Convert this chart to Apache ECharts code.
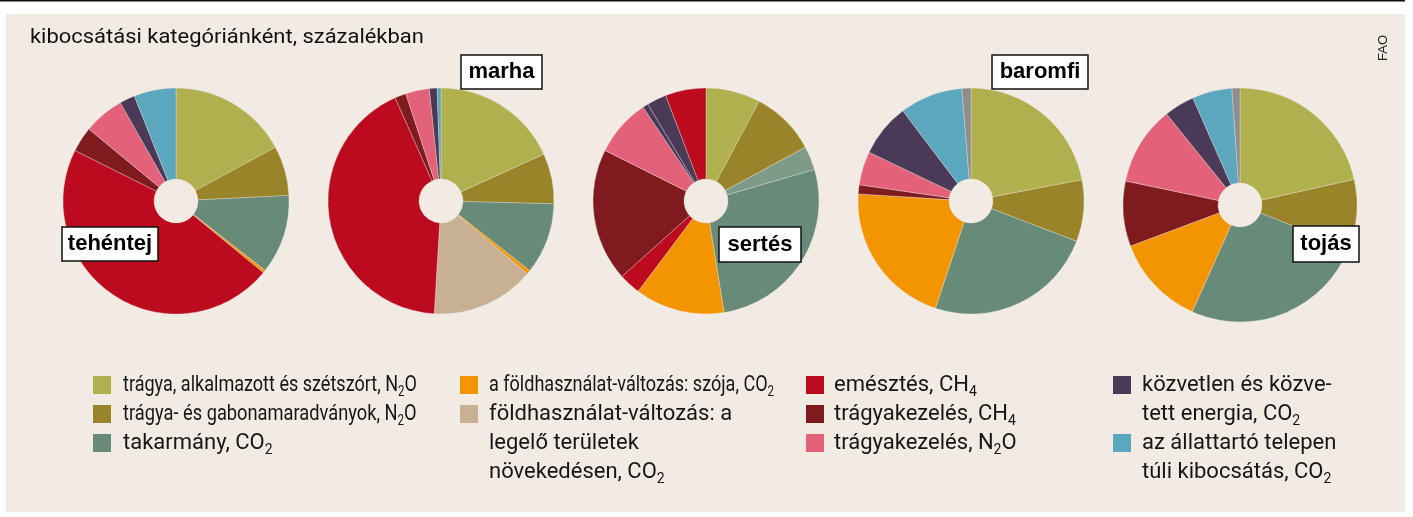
<!DOCTYPE html>
<html>
<head>
<meta charset="utf-8">
<script src="https://cdn.jsdelivr.net/npm/echarts@6/dist/echarts.min.js"></script>
<style>
  html, body { margin: 0; padding: 0; background: #ffffff; }
  #chart { width: 1413px; height: 517px; }
</style>
</head>
<body>
<div id="chart"></div>
<script>
// Emission categories (keys), legend labels and colours
const kategoriak = ['alk', 'mar', 'tak', 'tak2', 'szoja', 'legelo', 'emesz', 'kezCH4', 'kezN2O', 'energia', 'telep', 'egyeb'];
const cimkek = {
  alk: 'trágya, alkalmazott és szétszórt, N{s|2}O',
  mar: 'trágya- és gabonamaradványok, N{s|2}O',
  tak: 'takarmány, CO{s|2}',
  szoja: 'a földhasználat-változás: szója, CO{s|2}',
  legelo: 'földhasználat-változás: a\nlegelő területek\nnövekedésen, CO{s|2}',
  emesz: 'emésztés, CH{s|4}',
  kezCH4: 'trágyakezelés, CH{s|4}',
  kezN2O: 'trágyakezelés, N{s|2}O',
  energia: 'közvetlen és közve-\ntett energia, CO{s|2}',
  telep: 'az állattartó telepen\ntúli kibocsátás, CO{s|2}'
};
const szinek = {
  alk: '#b0b04f', mar: '#9a8429', tak: '#688a78', tak2: '#7e9a88',
  szoja: '#f39500', legelo: '#c8b095', emesz: '#bc0a1e', kezCH4: '#7f1a1e',
  kezN2O: '#e3627a', energia: '#4a3a58', telep: '#5ba7bd', egyeb: '#8e8e8e'
};

// Share of each category per product, in percent (clockwise from 12 o'clock)
const allatok = ['tehéntej', 'marha', 'sertés', 'baromfi', 'tojás'];
const tehentejKat = ['alk', 'mar', 'tak', 'szoja', 'emesz', 'kezCH4', 'kezN2O', 'energia', 'telep'];
const tehentejErt = [17.1, 7.1, 11.3, 0.4, 46.4, 3.6, 5.8, 2.2, 6.0];
const marhaKat = ['alk', 'mar', 'tak', 'szoja', 'legelo', 'emesz', 'kezCH4', 'kezN2O', 'energia', 'telep'];
const marhaErt = [18.2, 7.2, 10.2, 0.55, 14.8, 42.4, 1.6, 3.4, 1.1, 0.55];
const sertesKat = ['alk', 'mar', 'tak2', 'tak', 'szoja', 'emesz', 'kezCH4', 'kezN2O', 'energia', 'energia', 'emesz'];
const sertesErt = [7.8, 9.3, 3.4, 26.9, 12.8, 3.1, 19.0, 8.2, 0.8, 2.8, 5.8];
const baromfiKat = ['alk', 'mar', 'tak', 'szoja', 'kezCH4', 'kezN2O', 'energia', 'telep', 'egyeb'];
const baromfiErt = [22.0, 8.8, 24.3, 20.9, 1.3, 4.8, 7.6, 9.0, 1.3];
const tojasKat = ['alk', 'mar', 'tak', 'szoja', 'kezCH4', 'kezN2O', 'energia', 'telep', 'egyeb'];
const tojasErt = [21.5, 9.5, 25.7, 12.6, 9.0, 10.9, 4.2, 5.5, 1.1];

const cim = 'kibocsátási kategóriánként, százalékban';
const forras = 'FAO';

// ---- layout ----
const BG = '#f1ebe4';
const pieKat = [tehentejKat, marhaKat, sertesKat, baromfiKat, tojasKat];
const pieErt = [tehentejErt, marhaErt, sertesErt, baromfiErt, tojasErt];
const pieCenters = [[176, 201], [441, 201], [706, 201], [971, 201], [1240, 205]];
const pieRadii = [113, 113, 113, 113, 117];
const labelBoxes = [[62, 227, 96, 34], [461, 55, 81, 34], [719, 227, 82, 35], [992, 55, 96, 34], [1293, 226, 66, 36]];

const legendCols = [93, 460, 806, 1113];
const legendTextOff = [30, 29, 28, 29];
const legendItems = [
  { key: 'alk', col: 0, row: 0, sx: 0.82 },
  { key: 'mar', col: 0, row: 1, sx: 0.83 },
  { key: 'tak', col: 0, row: 2, sx: 1 },
  { key: 'szoja', col: 1, row: 0, sx: 0.82 },
  { key: 'legelo', col: 1, row: 1, sx: 1 },
  { key: 'emesz', col: 2, row: 0, sx: 1 },
  { key: 'kezCH4', col: 2, row: 1, sx: 1 },
  { key: 'kezN2O', col: 2, row: 2, sx: 1 },
  { key: 'energia', col: 3, row: 0, sx: 1 },
  { key: 'telep', col: 3, row: 2, sx: 1 }
];
const ROW0 = 385, ROWH = 29;

const series = pieKat.map((kat, i) => ({
  type: 'pie',
  name: allatok[i],
  center: pieCenters[i],
  radius: [22, pieRadii[i]],
  startAngle: 90,
  clockwise: true,
  silent: true,
  label: { show: false },
  labelLine: { show: false },
  itemStyle: { borderColor: 'rgba(241,235,228,0.55)', borderWidth: 0.6 },
  data: kat.map((k, j) => ({ name: k, value: pieErt[i][j], itemStyle: { color: szinek[k] } }))
}));

const graphics = [];
// top rule and panel
graphics.push({ type: 'rect', z: -10, shape: { x: 0, y: 0, width: 1405, height: 1.6 }, style: { fill: '#111' } });
graphics.push({ type: 'rect', z: -10, shape: { x: 6, y: 14, width: 1399, height: 498 }, style: { fill: BG } });
// heading and source
graphics.push({ type: 'text', z: 10, x: 30, y: 27, scaleX: 1.045, style: { text: cim, font: '21px Roboto', fill: '#111' } });
graphics.push({ type: 'text', z: 10, x: 1377, y: 61, rotation: Math.PI / 2, style: { text: forras, font: '13px "Liberation Sans"', fill: '#222' } });
// product name boxes
labelBoxes.forEach((b, i) => {
  graphics.push({ type: 'rect', z: 20, shape: { x: b[0], y: b[1], width: b[2], height: b[3] },
    style: { fill: '#fff', stroke: '#111', lineWidth: 1.5 } });
  graphics.push({ type: 'text', z: 21, x: b[0] + b[2] / 2, y: b[1] + b[3] / 2,
    style: { text: allatok[i], font: 'bold 22px "Liberation Sans"', fill: '#000', align: 'center', verticalAlign: 'middle' } });
});
// legend
legendItems.forEach(it => {
  const cy = ROW0 + it.row * ROWH;
  const x = legendCols[it.col];
  graphics.push({ type: 'rect', z: 10, shape: { x: x, y: cy - 9, width: 18, height: 18 }, style: { fill: szinek[it.key] } });
  graphics.push({ type: 'text', z: 10, x: x + legendTextOff[it.col], y: cy - ROWH / 2, scaleX: it.sx,
    style: {
      text: cimkek[it.key], font: '22px Roboto', fill: '#161616', lineHeight: ROWH, verticalAlign: 'top',
      rich: { s: { fontSize: 14, fontFamily: 'Roboto', fill: '#161616', lineHeight: 14, verticalAlign: 'bottom' } }
    } });
});

const chart = echarts.init(document.getElementById('chart'));
chart.setOption({
  backgroundColor: '#ffffff',
  animation: false,
  series: series,
  graphic: { elements: graphics }
});
</script>
</body>
</html>
